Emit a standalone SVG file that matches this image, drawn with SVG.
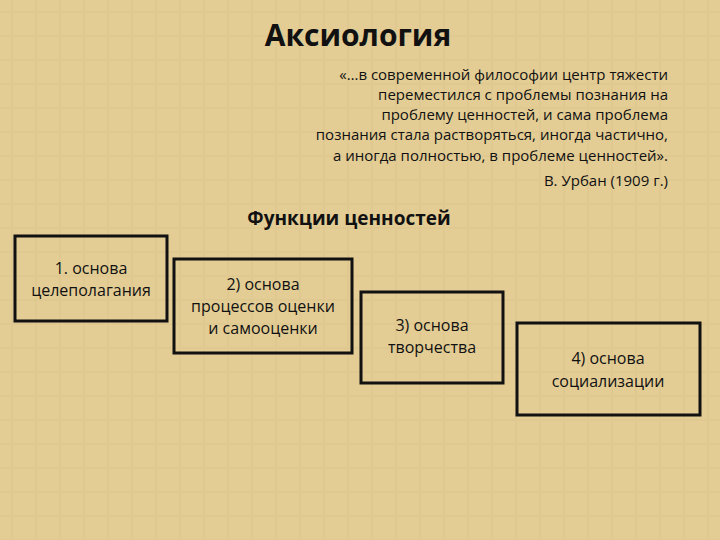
<svg xmlns="http://www.w3.org/2000/svg" width="720" height="540" viewBox="0 0 720 540">
<style>
text{font-family:"Open Sans","Noto Sans","DejaVu Sans",sans-serif;fill:#111}
.b{fill:none;stroke:#111;stroke-width:3}
.t{font-size:16px;text-anchor:middle}
.q{font-size:15px;text-anchor:end}
</style>
<defs><pattern id="p" width="24" height="24" patternUnits="userSpaceOnUse"><rect width="24" height="24" fill="#e3cd95"/><path d="M0 12H24M12 0V24" stroke="#d8c088" stroke-width="2" opacity="0.35"/></pattern></defs>
<rect width="720" height="540" fill="url(#p)"/>
<text x="358" y="46" font-size="30" font-weight="bold" text-anchor="middle">Аксиология</text>
<g>
<text class="q" x="668" y="80">«…в современной философии центр тяжести</text>
<text class="q" x="668" y="100">переместился с проблемы познания на</text>
<text class="q" x="668" y="120">проблему ценностей, и сама проблема</text>
<text class="q" x="668" y="140">познания стала растворяться, иногда частично,</text>
<text class="q" x="668" y="161">а иногда полностью, в проблеме ценностей».</text>
<text class="q" x="668" y="186">В. Урбан (1909 г.)</text>
</g>
<text x="349" y="225" font-size="19" font-weight="bold" text-anchor="middle">Функции ценностей</text>
<g id="n1"><rect class="b" x="15" y="236" width="152" height="85"/><text class="t" x="91" y="274">1. основа</text><text class="t" x="91" y="296">целеполагания</text></g>
<g id="n2"><rect class="b" x="174" y="259" width="178" height="94"/><text class="t" x="263" y="290">2) основа</text><text class="t" x="263" y="312">процессов оценки</text><text class="t" x="263" y="334">и самооценки</text></g>
<g id="n3"><rect class="b" x="361" y="292" width="142" height="91"/><text class="t" x="432" y="331">3) основа</text><text class="t" x="432" y="353">творчества</text></g>
<g id="n4"><rect class="b" x="517" y="323" width="183" height="92"/><text class="t" x="608" y="364">4) основа</text><text class="t" x="608" y="387">социализации</text></g>
<g id="connectors"/>
</svg>
